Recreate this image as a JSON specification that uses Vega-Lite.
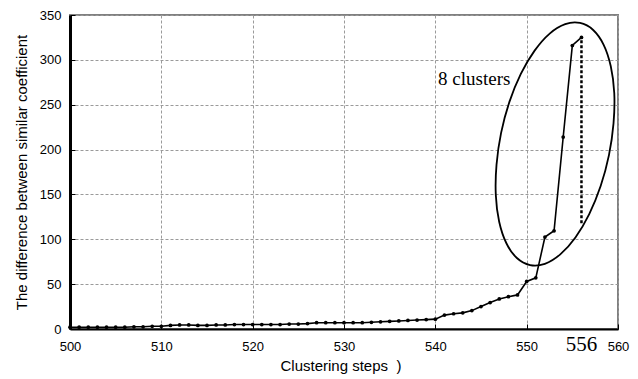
{
  "$schema": "https://vega.github.io/schema/vega-lite/v6.json",
  "width": 548,
  "height": 314,
  "autosize": {"type": "none"},
  "padding": {"left": 70, "top": 15, "right": 20, "bottom": 50},
  "background": "white",
  "config": {
    "view": {"stroke": "#808080", "strokeWidth": 2},
    "font": "Liberation Sans",
    "axis": {
      "labelFont": "Liberation Sans",
      "titleFont": "Liberation Sans",
      "labelFontSize": 13,
      "titleFontSize": 15,
      "titleFontWeight": "normal",
      "labelColor": "#000000",
      "titleColor": "#000000",
      "domainColor": "#000000",
      "gridColor": "#9a9a9a",
      "gridDash": [3, 2],
      "gridWidth": 1,
      "tickColor": "#000000",
      "tickSize": -5,
      "labelFlush": false,
      "zindex": 1
    }
  },
  "datasets": {
    "main": [
      {"step": 500, "v": 2}, {"step": 501, "v": 2}, {"step": 502, "v": 2}, {"step": 503, "v": 2},
      {"step": 504, "v": 2}, {"step": 505, "v": 2}, {"step": 506, "v": 2}, {"step": 507, "v": 2.5},
      {"step": 508, "v": 2.5}, {"step": 509, "v": 3}, {"step": 510, "v": 3}, {"step": 511, "v": 4},
      {"step": 512, "v": 4.5}, {"step": 513, "v": 4.5}, {"step": 514, "v": 4}, {"step": 515, "v": 4},
      {"step": 516, "v": 4.5}, {"step": 517, "v": 4.5}, {"step": 518, "v": 5}, {"step": 519, "v": 5},
      {"step": 520, "v": 5}, {"step": 521, "v": 5}, {"step": 522, "v": 5}, {"step": 523, "v": 5},
      {"step": 524, "v": 5.5}, {"step": 525, "v": 5.5}, {"step": 526, "v": 6}, {"step": 527, "v": 7},
      {"step": 528, "v": 7}, {"step": 529, "v": 7}, {"step": 530, "v": 7}, {"step": 531, "v": 7},
      {"step": 532, "v": 7}, {"step": 533, "v": 7.5}, {"step": 534, "v": 8}, {"step": 535, "v": 8.5},
      {"step": 536, "v": 9}, {"step": 537, "v": 9.5}, {"step": 538, "v": 10}, {"step": 539, "v": 10.5},
      {"step": 540, "v": 11}, {"step": 541, "v": 15.5}, {"step": 542, "v": 17}, {"step": 543, "v": 18},
      {"step": 544, "v": 20.5}, {"step": 545, "v": 25}, {"step": 546, "v": 29.5}, {"step": 547, "v": 33.5},
      {"step": 548, "v": 36}, {"step": 549, "v": 38}, {"step": 550, "v": 53}, {"step": 551, "v": 57},
      {"step": 552, "v": 102.5}, {"step": 553, "v": 109.5}, {"step": 554, "v": 214}, {"step": 555, "v": 316},
      {"step": 556, "v": 325}
    ],
    "ellipse": [
      {"i": 0, "x": 555.84, "y": 341.1},
      {"i": 1, "x": 557.28, "y": 333.3},
      {"i": 2, "x": 558.43, "y": 316.8},
      {"i": 3, "x": 559.21, "y": 292.8},
      {"i": 4, "x": 559.59, "y": 263.0},
      {"i": 5, "x": 559.51, "y": 229.2},
      {"i": 6, "x": 559.01, "y": 193.8},
      {"i": 7, "x": 558.10, "y": 159.3},
      {"i": 8, "x": 556.85, "y": 128.1},
      {"i": 9, "x": 555.34, "y": 102.1},
      {"i": 10, "x": 553.68, "y": 83.2},
      {"i": 11, "x": 551.99, "y": 72.7},
      {"i": 12, "x": 550.37, "y": 71.3},
      {"i": 13, "x": 548.93, "y": 79.1},
      {"i": 14, "x": 547.78, "y": 95.6},
      {"i": 15, "x": 546.99, "y": 119.6},
      {"i": 16, "x": 546.62, "y": 149.5},
      {"i": 17, "x": 546.70, "y": 183.3},
      {"i": 18, "x": 547.20, "y": 218.6},
      {"i": 19, "x": 548.11, "y": 253.2},
      {"i": 20, "x": 549.36, "y": 284.4},
      {"i": 21, "x": 550.87, "y": 310.3},
      {"i": 22, "x": 552.52, "y": 329.3},
      {"i": 23, "x": 554.22, "y": 339.8}
    ]
  },
  "layer": [
    {
      "data": {"name": "main"},
      "mark": {"type": "line", "color": "#000000", "strokeWidth": 1.6, "point": {"filled": true, "size": 14, "color": "#000000"}},
      "encoding": {
        "x": {
          "field": "step", "type": "quantitative",
          "scale": {"domain": [500, 560], "nice": false, "zero": false},
          "axis": {"values": [500, 510, 520, 530, 540, 550, 560], "title": "Clustering steps\u00a0\u00a0)", "titlePadding": 5, "labelPadding": 16, "domainWidth": 2, "titleX": 210, "titleAlign": "left"}
        },
        "y": {
          "field": "v", "type": "quantitative",
          "scale": {"domain": [0, 350], "nice": false},
          "axis": {"values": [0, 50, 100, 150, 200, 250, 300, 350], "title": "The difference between similar coefficient", "titlePadding": 10, "labelPadding": 14, "domainWidth": 3}
        }
      }
    },
    {
      "data": {"values": [{"x": 556, "y1": 118, "y2": 325}]},
      "mark": {"type": "rule", "color": "#000000", "strokeWidth": 2.5, "strokeDash": [3, 2]},
      "encoding": {
        "x": {"field": "x", "type": "quantitative"},
        "y": {"field": "y1", "type": "quantitative"},
        "y2": {"field": "y2"}
      }
    },
    {
      "data": {"name": "ellipse"},
      "mark": {"type": "line", "color": "#000000", "strokeWidth": 1.8, "interpolate": "cardinal-closed", "clip": false},
      "encoding": {
        "x": {"field": "x", "type": "quantitative"},
        "y": {"field": "y", "type": "quantitative"},
        "order": {"field": "i", "type": "quantitative"}
      }
    },
    {
      "data": {"values": [{"x": 540.3, "y": 279, "t": "8 clusters"}]},
      "mark": {"type": "text", "font": "Liberation Serif", "fontSize": 19, "align": "left", "baseline": "middle", "color": "#000000"},
      "encoding": {
        "x": {"field": "x", "type": "quantitative"},
        "y": {"field": "y", "type": "quantitative"},
        "text": {"field": "t"}
      }
    },
    {
      "data": {"values": [{"x": 556, "y": -18, "t": "556"}]},
      "mark": {"type": "text", "font": "Liberation Serif", "fontSize": 21, "align": "center", "baseline": "middle", "color": "#000000", "clip": false},
      "encoding": {
        "x": {"field": "x", "type": "quantitative"},
        "y": {"field": "y", "type": "quantitative"},
        "text": {"field": "t"}
      }
    }
  ]
}
